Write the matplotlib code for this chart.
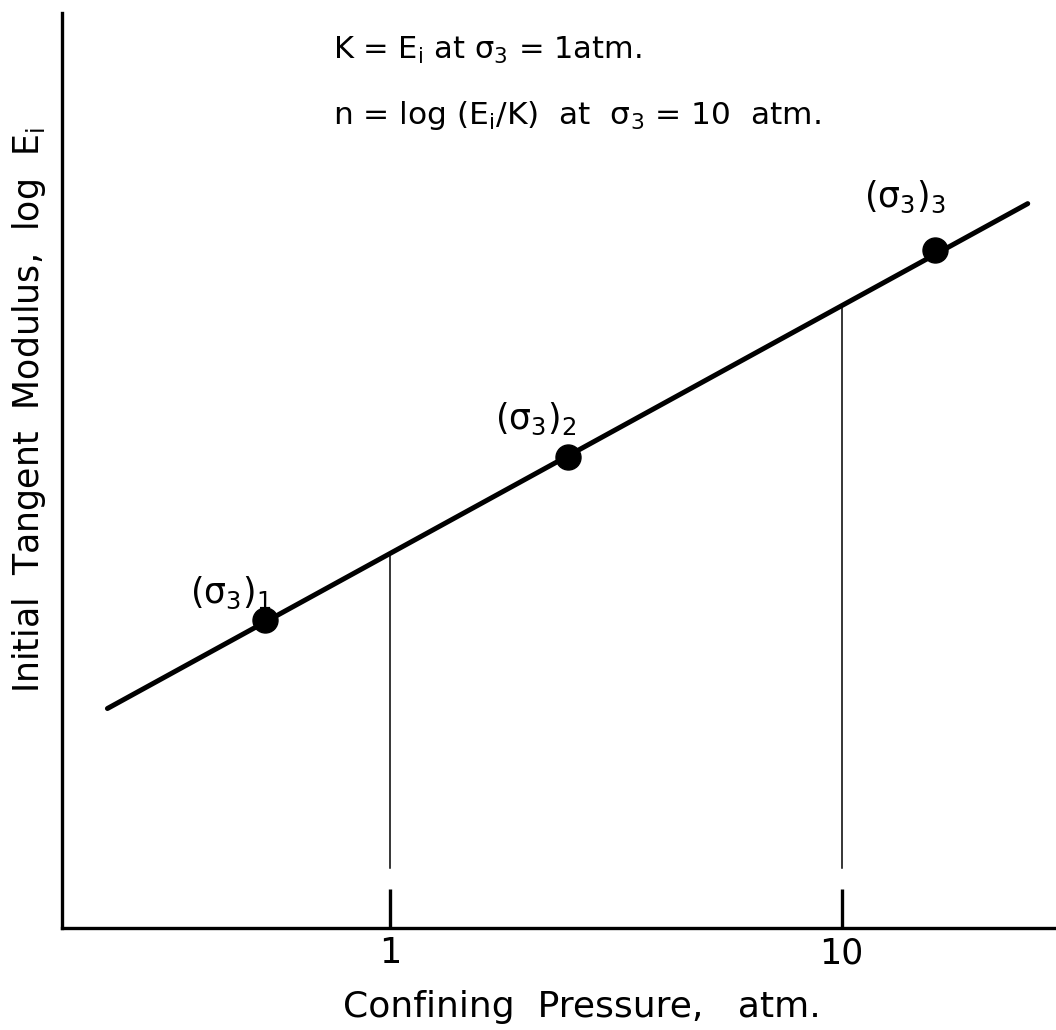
import numpy as np
import matplotlib
matplotlib.use("Agg")
import matplotlib.pyplot as plt

# confining pressure (atm) and log Ei (arbitrary units)
line_p = [0.237, 25.8]
line_logE = [0.240, 0.792]

pts_p = [0.529, 2.48, 16.1]
pts_logE = [0.337, 0.515, 0.741]
pts_lab = [r"$(\sigma_3)_1$", r"$(\sigma_3)_2$", r"$(\sigma_3)_3$"]

ref_p = [1, 10]
ref_logE = [0.408, 0.680]
tick_lab = ["1", "10"]

plt.rcParams['font.family'] = ['DejaVu Sans']
plt.rcParams['mathtext.fontset'] = 'dejavusans'
plt.rcParams['mathtext.default'] = 'regular'

fig = plt.figure(figsize=(10.56, 10.30), dpi=100)
ax = fig.add_axes([0.0587, 0.099, 0.9413, 0.888])

ax.set_xscale('log')
ax.set_xlim(0.188, 29.8)
ax.set_ylim(0, 1)

# main line and points
ax.plot(line_p, line_logE, color='black', lw=3.6, solid_capstyle='round')
ax.plot(pts_p, pts_logE, 'o', color='black', ms=18)

# thin drop lines at 1 and 10 atm
for p, e in zip(ref_p, ref_logE):
    ax.plot([p, p], [0.066, e], color='black', lw=1.1)

# labels of the points
offs = [(-0.166, 0.030), (-0.162, 0.042), (-0.157, 0.058)]
for p, e, t, (dx, dy) in zip(pts_p, pts_logE, pts_lab, offs):
    ax.text(p * 10**dx, e + dy, t, fontsize=25, ha='left', va='center')

ax.text(0.273, 0.96, r"K = E$_i$ at $\sigma_3$ = 1atm.", transform=ax.transAxes,
        fontsize=22, ha='left', va='center')
ax.text(0.273, 0.888, r"n = log (E$_i$/K)  at  $\sigma_3$ = 10  atm.", transform=ax.transAxes,
        fontsize=22.5, ha='left', va='center')

# axes styling
for s in ['top', 'right']:
    ax.spines[s].set_visible(False)
for s in ['left', 'bottom']:
    ax.spines[s].set_linewidth(2.4)

ax.set_xticks(ref_p)
ax.set_xticklabels(tick_lab)
ax.xaxis.set_minor_locator(matplotlib.ticker.NullLocator())
ax.tick_params(axis='x', direction='in', length=28, width=2.4, labelsize=25, pad=6)
ax.set_yticks([])

ax.set_xlabel("Confining  Pressure,   atm.", fontsize=26)
ax.xaxis.set_label_coords(0.523, -0.068, transform=ax.transAxes)
ax.xaxis.label.set_va('top')
ax.set_ylabel(r"Initial  Tangent  Modulus,  log  E$_i$", fontsize=25)
ax.yaxis.set_label_coords(-0.014, 0.566)

fig.savefig("out.png", dpi=100)
